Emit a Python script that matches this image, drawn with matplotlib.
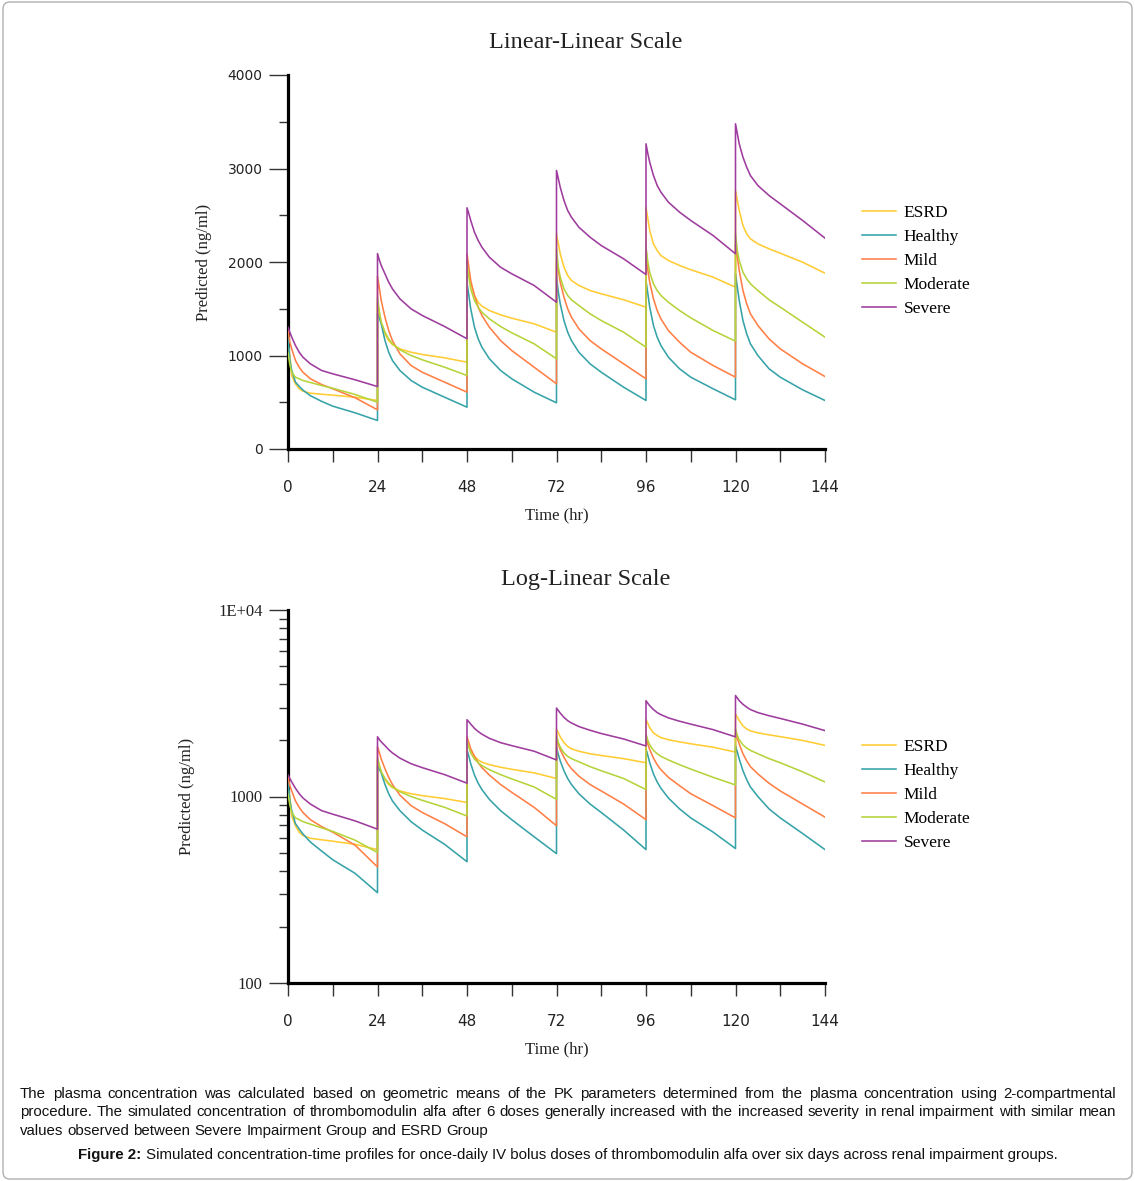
import matplotlib
matplotlib.use("Agg")
import matplotlib.pyplot as plt
from matplotlib.ticker import MultipleLocator, FixedLocator, NullFormatter, LogLocator
from matplotlib.patches import FancyBboxPatch

# ---------------- data ----------------
dose_times = [0, 24, 48, 72, 96, 120]               # hr
tau = [0, 0.5, 1, 2, 3, 4, 6, 9, 12, 18, 24]         # hr after each dose

groups = ["ESRD", "Healthy", "Mild", "Moderate", "Severe"]

ESRD = [
    [1120, 1000, 786, 697, 644, 618, 597, 586, 576, 554, 519],
    [1560, 1450, 1356, 1231, 1160, 1117, 1071, 1035, 1011, 975, 929],
    [2000, 1874, 1767, 1642, 1570, 1527, 1481, 1435, 1399, 1339, 1249],
    [2301, 2194, 2088, 1944, 1856, 1802, 1749, 1695, 1660, 1596, 1517],
    [2586, 2462, 2337, 2194, 2123, 2069, 2016, 1963, 1917, 1838, 1730],
    [2765, 2658, 2551, 2390, 2301, 2248, 2194, 2141, 2094, 1998, 1880],
]
Healthy = [
    [1200, 947, 840, 715, 670, 630, 570, 510, 458, 387, 305],
    [1450, 1400, 1339, 1160, 1035, 947, 840, 733, 661, 554, 447],
    [1780, 1642, 1499, 1303, 1178, 1089, 965, 840, 751, 608, 494],
    [1838, 1677, 1553, 1374, 1249, 1160, 1035, 911, 821, 661, 519],
    [1800, 1660, 1517, 1321, 1196, 1107, 982, 858, 768, 644, 526],
    [1874, 1730, 1588, 1374, 1232, 1125, 1000, 858, 768, 633, 519],
]
Mild = [
    [1270, 1142, 1071, 947, 875, 821, 751, 690, 644, 548, 419],
    [1850, 1720, 1588, 1410, 1267, 1160, 1018, 893, 821, 715, 608],
    [2088, 1944, 1802, 1642, 1517, 1428, 1303, 1160, 1053, 875, 697],
    [2000, 1909, 1784, 1624, 1499, 1410, 1285, 1160, 1071, 911, 751],
    [2150, 1909, 1784, 1606, 1481, 1392, 1267, 1142, 1035, 893, 768],
    [2194, 2051, 1909, 1695, 1553, 1446, 1321, 1178, 1071, 911, 775],
]
Moderate = [
    [1030, 900, 821, 768, 751, 733, 711, 679, 650, 583, 501],
    [1620, 1470, 1356, 1249, 1178, 1125, 1061, 1000, 954, 875, 786],
    [1980, 1838, 1713, 1588, 1517, 1463, 1392, 1310, 1243, 1125, 965],
    [2141, 1944, 1838, 1713, 1642, 1596, 1535, 1446, 1374, 1249, 1089],
    [2158, 1998, 1891, 1767, 1695, 1642, 1570, 1481, 1403, 1267, 1153],
    [2301, 2123, 2016, 1891, 1820, 1767, 1695, 1596, 1517, 1356, 1196],
]
Severe = [
    [1303, 1249, 1196, 1107, 1035, 982, 911, 840, 804, 740, 668],
    [2090, 2020, 1963, 1874, 1784, 1713, 1606, 1499, 1428, 1310, 1179],
    [2580, 2515, 2444, 2319, 2230, 2158, 2051, 1944, 1874, 1749, 1570],
    [2979, 2890, 2800, 2658, 2551, 2479, 2372, 2265, 2176, 2034, 1866],
    [3264, 3157, 3067, 2925, 2818, 2747, 2640, 2533, 2444, 2283, 2088],
    [3478, 3371, 3264, 3121, 3014, 2925, 2818, 2711, 2622, 2444, 2255],
]

series = {"ESRD": ESRD, "Healthy": Healthy, "Mild": Mild,
          "Moderate": Moderate, "Severe": Severe}
colors = {"ESRD": "#FFCC33", "Healthy": "#36A3A8", "Mild": "#FF7F45",
          "Moderate": "#B5D33A", "Severe": "#9E3C9E"}

x_ticks = [0, 24, 48, 72, 96, 120, 144]
lin_yticks = [0, 1000, 2000, 3000, 4000]
log_yticks = [100, 1000, 10000]
log_ylabels = ["100", "1000", "1E+04"]

caption_lines = [
    "The plasma concentration was calculated based on geometric means of the PK parameters determined from the plasma concentration using 2-compartmental",
    "procedure. The simulated concentration of thrombomodulin alfa after 6 doses generally increased with the increased severity in renal impairment with similar mean",
    "values observed between Severe Impairment Group and ESRD Group",
]
fig_label = "Figure 2:"
fig_caption = " Simulated concentration-time profiles for once-daily IV bolus doses of thrombomodulin alfa over six days across renal impairment groups."

SERIF = "Liberation Serif"
SANS = "Liberation Sans"
PX = 0.72  # points per pixel at dpi 100

W, H = 1135, 1181
fig = plt.figure(figsize=(W / 100, H / 100), dpi=100)


def fx(px):
    return px / W


def fy(py):
    return 1 - py / H


def profile(data):
    t, c = [], []
    for d0, vals in zip(dose_times, data):
        for tt, v in zip(tau, vals):
            t.append(d0 + tt)
            c.append(v)
    return t, c


def style_axes(ax):
    for s in ["top", "right"]:
        ax.spines[s].set_visible(False)
    for s in ["left", "bottom"]:
        ax.spines[s].set_linewidth(2.3)
        ax.spines[s].set_color("black")
    ax.set_xlim(0, 144)
    ax.set_xticks(x_ticks)
    ax.xaxis.set_minor_locator(FixedLocator([12, 36, 60, 84, 108, 132]))
    ax.tick_params(axis="x", which="both", direction="out", length=13 * PX,
                   width=1, color="#333333", pad=13, labelsize=11,
                   labelfontfamily="DejaVu Sans", labelcolor="#222222")


def draw(ax):
    for g in groups:
        t, c = profile(series[g])
        ax.plot(t, c, color=colors[g], lw=1.15, label=g, zorder=3)


def add_legend(ax, top_px):
    ax.legend(loc="upper left", bbox_to_anchor=(fx(862), fy(top_px)),
              bbox_transform=fig.transFigure, frameon=False, borderpad=0,
              borderaxespad=0, handlelength=1.95, handletextpad=0.45,
              labelspacing=0.45, prop={"family": SERIF, "size": 12.5})


# ---------------- top: linear ----------------
ax1 = fig.add_axes([fx(288), fy(449), fx(825) - fx(288), fy(75) - fy(449)])
draw(ax1)
style_axes(ax1)
ax1.set_ylim(0, 4000)
ax1.set_yticks(lin_yticks)
ax1.yaxis.set_minor_locator(MultipleLocator(500))
ax1.tick_params(axis="y", which="major", direction="out", length=19 * PX,
                width=1, color="#333333", pad=4.5, labelsize=10,
                labelfontfamily="DejaVu Sans", labelcolor="#222222")
ax1.tick_params(axis="y", which="minor", direction="out", length=9 * PX,
                width=1, color="#333333")
ax1.set_ylabel("Predicted (ng/ml)", family=SERIF, fontsize=12, color="#222222")
ax1.yaxis.set_label_coords((212 - 288) / 537, 0.5)
ax1.set_xlabel("Time (hr)", family=SERIF, fontsize=12, color="#222222")
ax1.xaxis.set_label_coords(0.5, (449 - 507) / 374)
add_legend(ax1, 205)
fig.text(fx(586), fy(42), "Linear-Linear Scale", family=SERIF, fontsize=17.5,
         ha="center", va="center", color="#222222")

# ---------------- bottom: log ----------------
ax2 = fig.add_axes([fx(288), fy(983), fx(825) - fx(288), fy(610) - fy(983)])
draw(ax2)
style_axes(ax2)
ax2.set_yscale("log")
ax2.set_ylim(100, 10000)
ax2.yaxis.set_major_locator(FixedLocator(log_yticks))
ax2.set_yticklabels(log_ylabels)
ax2.yaxis.set_minor_locator(LogLocator(base=10, subs=range(2, 10)))
ax2.yaxis.set_minor_formatter(NullFormatter())
ax2.tick_params(axis="y", which="major", direction="out", length=19 * PX,
                width=1, color="#333333", pad=4.5, labelsize=12,
                labelfontfamily=SERIF, labelcolor="#222222")
ax2.tick_params(axis="y", which="minor", direction="out", length=9 * PX,
                width=1, color="#333333")
ax2.set_ylabel("Predicted (ng/ml)", family=SERIF, fontsize=12, color="#222222")
ax2.yaxis.set_label_coords((195 - 288) / 537, 0.5)
ax2.set_xlabel("Time (hr)", family=SERIF, fontsize=12, color="#222222")
ax2.xaxis.set_label_coords(0.5, (983 - 1041) / 373)
add_legend(ax2, 739)
fig.text(fx(586), fy(579), "Log-Linear Scale", family=SERIF, fontsize=17.5,
         ha="center", va="center", color="#222222")

# ---------------- caption ----------------
renderer = fig.canvas.get_renderer()
CAP_FS = 10.8


def justified(text, ypx, x0px, x1px, justify=True):
    words = text.split()
    ts = [fig.text(0, fy(ypx), w, family=SANS, fontsize=CAP_FS, va="center",
                   ha="left", color="#111111") for w in words]
    widths = [t.get_window_extent(renderer).width for t in ts]
    s1 = fig.text(0, 0, "a b", family=SANS, fontsize=CAP_FS)
    s2 = fig.text(0, 0, "ab", family=SANS, fontsize=CAP_FS)
    sw = s1.get_window_extent(renderer).width - s2.get_window_extent(renderer).width
    s1.remove()
    s2.remove()
    if justify and len(words) > 1:
        gap = (x1px - x0px - sum(widths)) / (len(words) - 1)
    else:
        gap = sw
    x = x0px
    for t, w in zip(ts, widths):
        t.set_x(fx(x))
        x += w + gap


justified(caption_lines[0], 1094, 20, 1116)
justified(caption_lines[1], 1112, 20, 1116)
justified(caption_lines[2], 1131, 20, 1116, justify=False)

tb = fig.text(0, fy(1155), fig_label, family=SANS, fontsize=CAP_FS,
              weight="bold", va="center", ha="left", color="#111111")
tr = fig.text(0, fy(1155), fig_caption, family=SANS, fontsize=CAP_FS,
              va="center", ha="left", color="#111111")
wb = tb.get_window_extent(renderer).width
wr = tr.get_window_extent(renderer).width
start = 568 - (wb + wr) / 2
tb.set_x(fx(start))
tr.set_x(fx(start + wb))

border = FancyBboxPatch((fx(3), fy(1179)), fx(1132) - fx(3), fy(2) - fy(1179),
                        boxstyle="round,pad=0,rounding_size=0.006",
                        transform=fig.transFigure, fill=False,
                        edgecolor="#b0b0b0", lw=1.0)
fig.patches.append(border)

fig.savefig("out.png", dpi=100)
